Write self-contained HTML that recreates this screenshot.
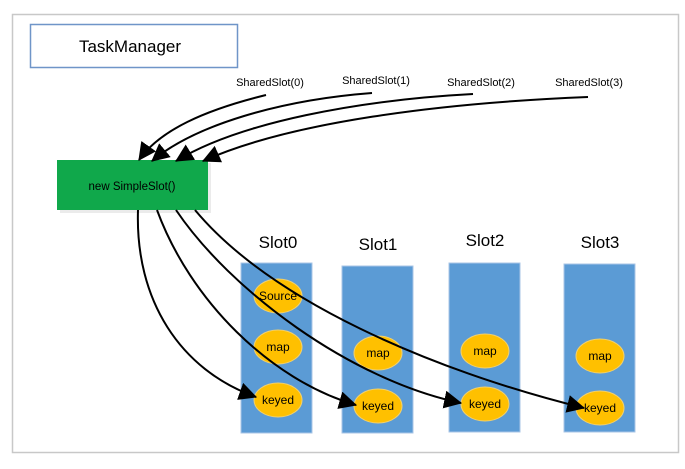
<!DOCTYPE html>
<html><head><style>
body{margin:0;background:#fff;width:685px;height:464px;overflow:hidden}
text{font-family:"Liberation Sans",sans-serif}
</style></head><body>
<svg width="685" height="464" viewBox="0 0 685 464">
<defs>
<marker id="b" markerWidth="18" markerHeight="18" refX="15" refY="8" orient="auto" markerUnits="userSpaceOnUse" viewBox="0 0 16 16">
<path d="M0,0 L16,8 L0,16 z" fill="#000"/></marker>
</defs>
<rect x="12.5" y="14.5" width="666" height="438" fill="#fff" stroke="#c8c8c8" stroke-width="1.5"/>
<rect x="30.5" y="24.5" width="207" height="43" fill="#fff" stroke="#6f95c8" stroke-width="1.5"/>
<text x="130" y="52" font-size="17" text-anchor="middle">TaskManager</text>
<g font-size="11" text-anchor="middle">
<text x="270" y="86">SharedSlot(0)</text>
<text x="376" y="84">SharedSlot(1)</text>
<text x="481" y="86">SharedSlot(2)</text>
<text x="589" y="86">SharedSlot(3)</text>
</g>
<rect x="60" y="163" width="151" height="50" fill="#ccc" opacity=".4"/>
<rect x="57" y="160" width="151" height="50" fill="#10a84b"/>
<text x="132" y="190" font-size="11.5" text-anchor="middle">new SimpleSlot()</text>
<g font-size="17" text-anchor="middle">
<text x="278" y="248">Slot0</text><text x="378" y="250">Slot1</text>
<text x="485" y="246">Slot2</text><text x="600" y="248">Slot3</text>
</g>
<g fill="#5b9bd5" stroke="#a9c6e6" stroke-width="1">
<rect x="241" y="263" width="71" height="170"/>
<rect x="342" y="266" width="71" height="167"/>
<rect x="449" y="263" width="71" height="169"/>
<rect x="564" y="264" width="71" height="168"/>
</g>
<g fill="#ffc000" stroke="#f0d070" stroke-width="1">
<ellipse cx="278" cy="296" rx="24" ry="17"/>
<ellipse cx="278" cy="347" rx="24" ry="17"/>
<ellipse cx="278" cy="400" rx="24" ry="17"/>
<ellipse cx="378" cy="353" rx="24" ry="17"/>
<ellipse cx="378" cy="406" rx="24" ry="17"/>
<ellipse cx="485" cy="351" rx="24" ry="17"/>
<ellipse cx="485" cy="404" rx="24" ry="17"/>
<ellipse cx="600" cy="356" rx="24" ry="17"/>
<ellipse cx="600" cy="408" rx="24" ry="17"/>
</g>
<g font-size="12" text-anchor="middle">
<text x="278" y="300">Source</text>
<text x="278" y="351">map</text><text x="278" y="404">keyed</text>
<text x="378" y="357">map</text><text x="378" y="410">keyed</text>
<text x="485" y="355">map</text><text x="485" y="408">keyed</text>
<text x="600" y="360">map</text><text x="600" y="412">keyed</text>
</g>
<g fill="none" stroke="#000" stroke-width="2" marker-end="url(#b)">
<path d="M266,95 C205,110 160,130 139,160"/>
<path d="M372,93 C280,100 195,125 152,161"/>
<path d="M473,94 C360,100 240,122 176,161"/>
<path d="M588,97 C440,103 290,122 203,161"/>
<path d="M138,210 C135,300 180,370 256,397"/>
<path d="M157,210 C190,300 270,380 356,405"/>
<path d="M176,210 C230,290 350,380 461,403"/>
<path d="M195,210 C270,300 430,370 584,408"/>
</g>
</svg>
</body></html>
